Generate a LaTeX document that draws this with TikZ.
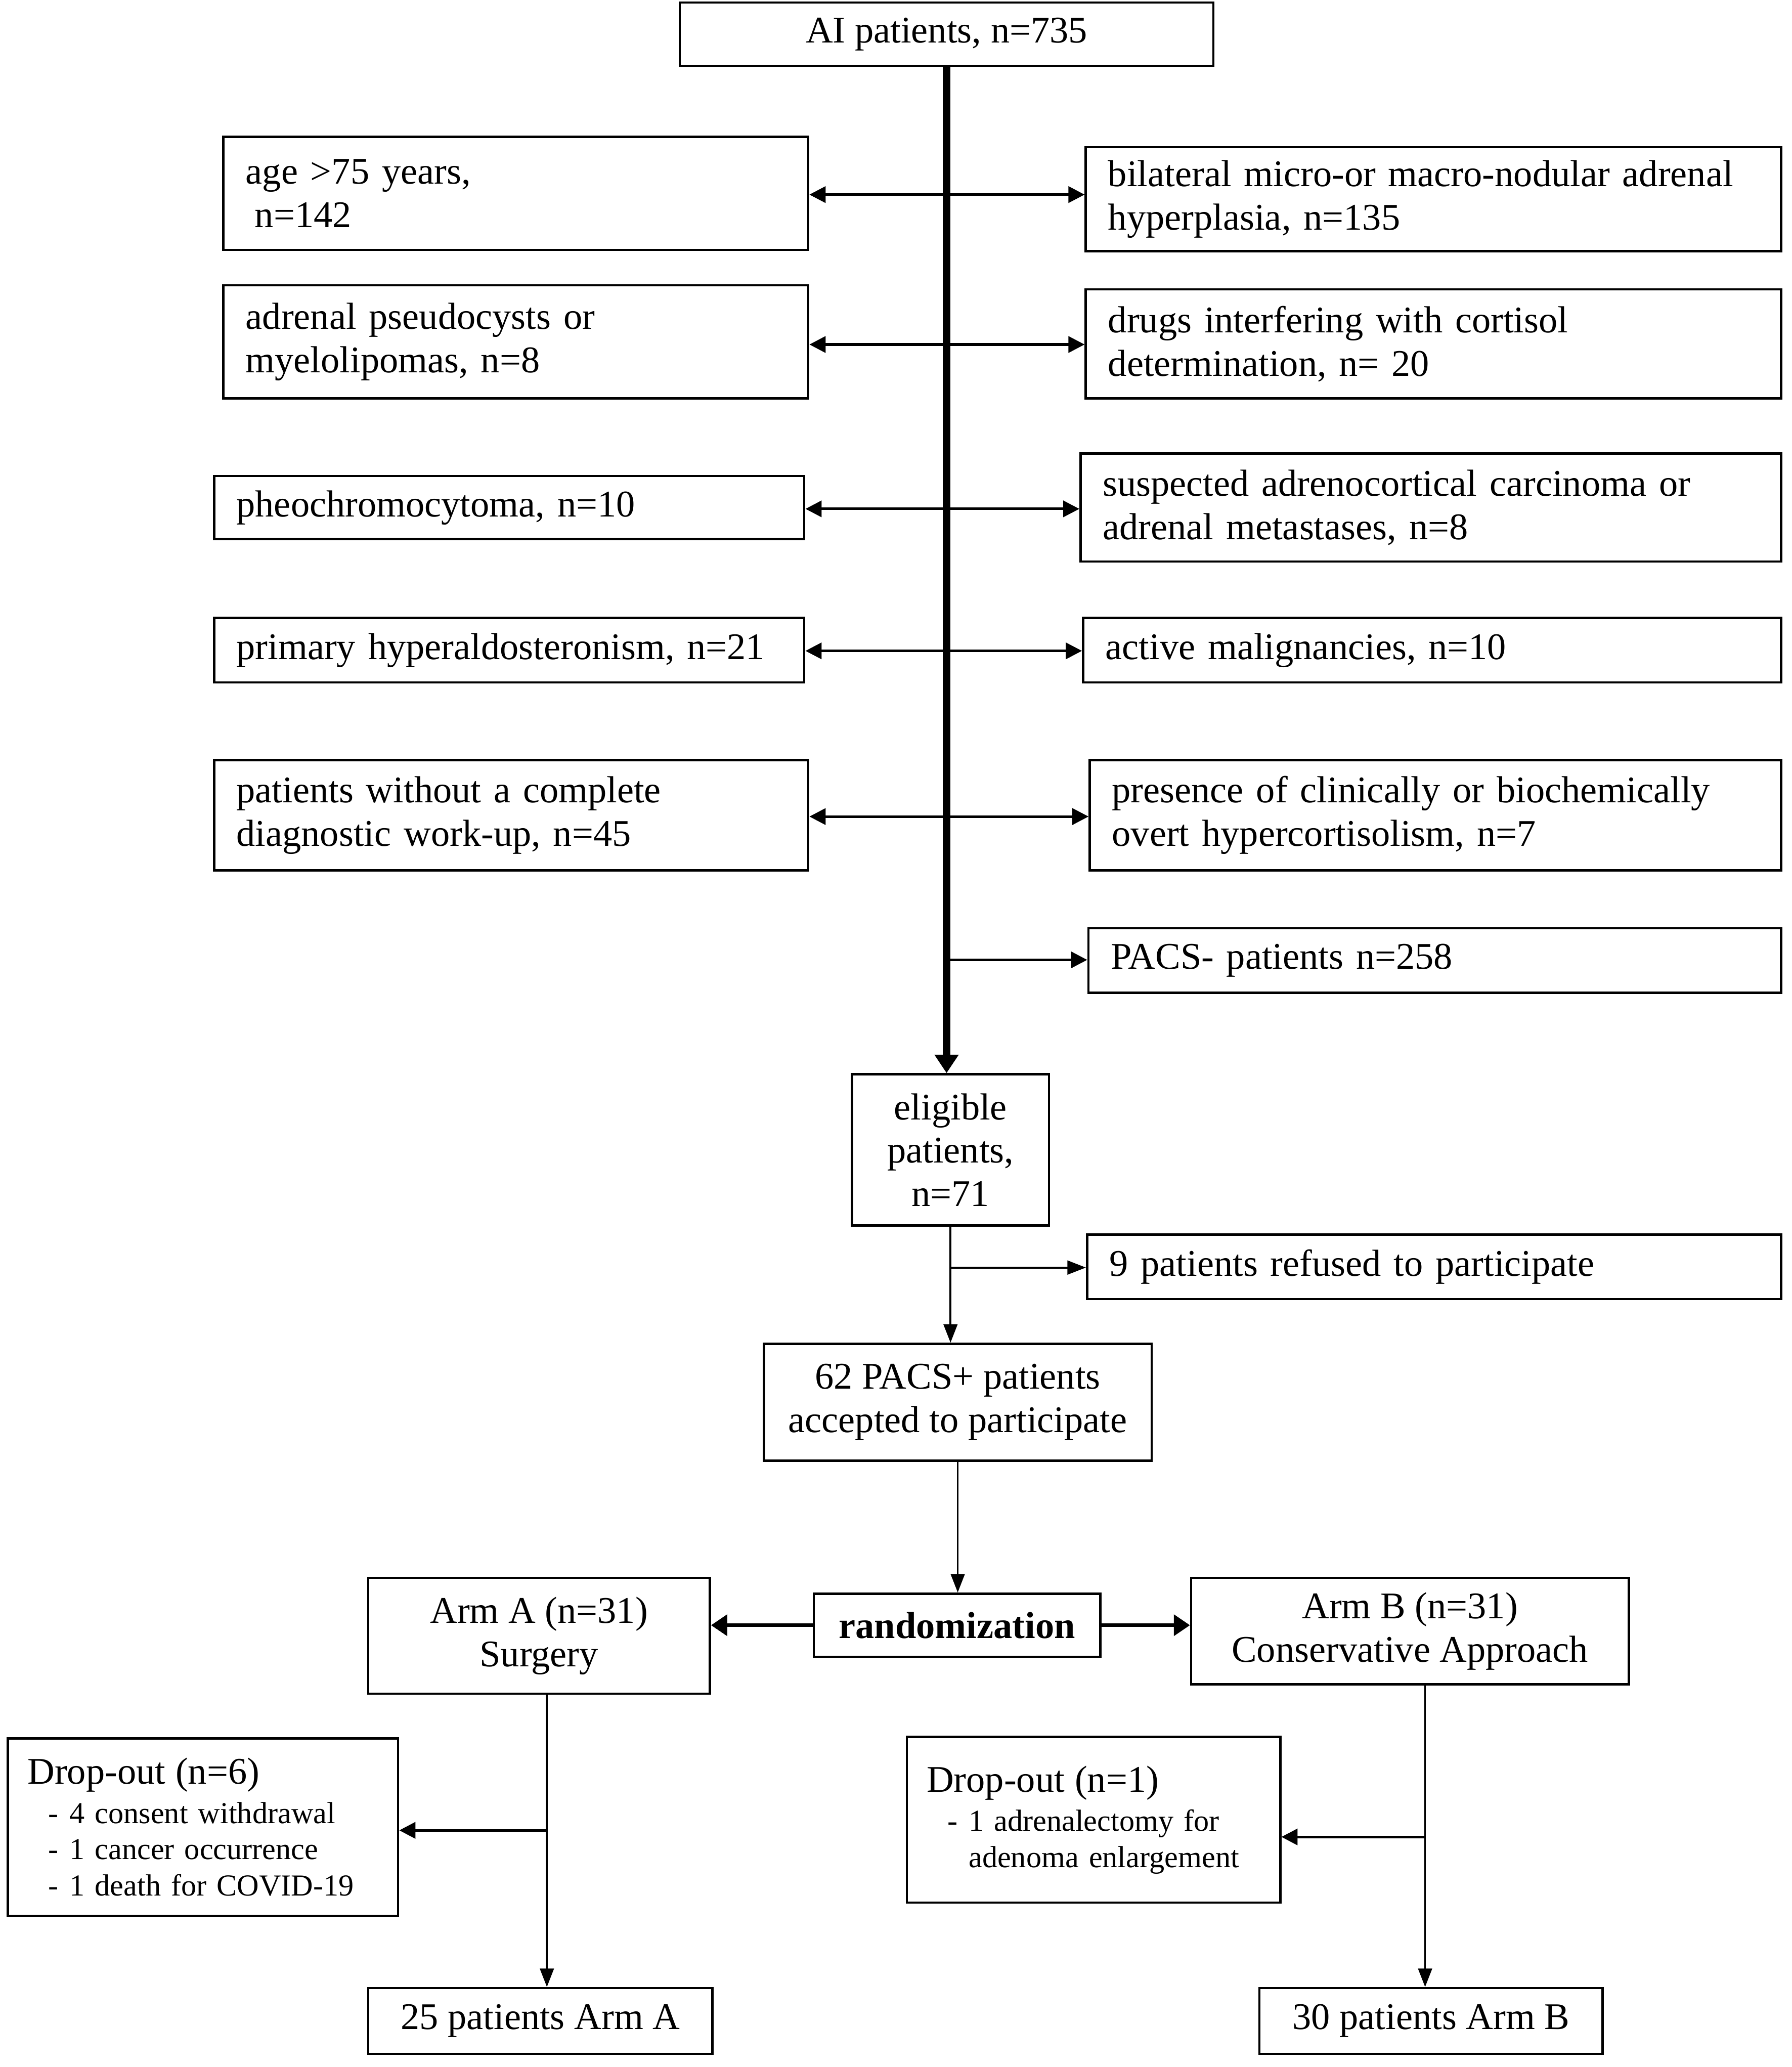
\documentclass[tikz,border=0pt]{standalone}
\usepackage{fontspec}
\setmainfont{Liberation Serif}
\usetikzlibrary{arrows.meta}
\newcommand{\listfont}{\fontsize{13.2}{15.6}\selectfont}
\newcommand{\headfont}{\fontsize{16.3}{18.8}\selectfont}
\newcommand{\dropitem}{\hspace*{0.32cm}\makebox[0.32cm][l]{-}}
\newcommand{\dropcont}{\hspace*{0.64cm}}

\begin{document}
\begin{tikzpicture}[x=0.02cm, y=-0.02cm,
    box/.style={draw, line width=1pt, inner sep=0pt, font=\headfont},
    cbox/.style={box, align=center},
    lbox/.style={box, anchor=west, inner xsep=0.34cm, align=left, text width=#1},
    dropbox/.style={lbox=#1, inner xsep=0.3cm, font=\listfont},
    arr/.style={line width=1.1pt, -{Triangle[length=7pt,width=7pt]}},
    thinarr/.style={line width=0.8pt, -{Triangle[length=8pt,width=6pt]}},
    randarr/.style={line width=1.6pt, -{Triangle[length=7pt,width=9pt]}},
    spinearr/.style={line width=3.4pt, -{Triangle[length=8pt,width=10pt]}}]
			\useasboundingbox (0,0) rectangle (1363,1572);
			\node[cbox, minimum width=8.12cm, minimum height=0.96cm] (ai) at (720,26) {AI patients, n=735};
			% left exclusions
			\node[lbox=8.22cm, minimum height=1.72cm] (age) at (169,147) {age >75 years,\\\hspace*{0.14cm}n=142};
			\node[lbox=8.22cm, minimum height=1.72cm] (pseudo) at (169,260) {adrenal pseudocysts or\\myelolipomas, n=8};
			\node[lbox=8.30cm, minimum height=0.96cm] (pheo) at (162,386) {pheochromocytoma, n=10};
			\node[lbox=8.30cm, minimum height=0.98cm] (aldo) at (162,494.5) {primary hyperaldosteronism, n=21};
			\node[lbox=8.36cm, minimum height=1.68cm] (workup) at (162,620) {patients without a complete\\diagnostic work-up, n=45};
			% right exclusions
			\node[lbox=9.90cm, minimum height=1.58cm] (bilat) at (825,151.5) {bilateral micro-or macro-nodular adrenal\\hyperplasia, n=135};
			\node[lbox=9.90cm, minimum height=1.66cm] (drugs) at (825,261.5) {drugs interfering with cortisol\\determination, n= 20};
			\node[lbox=9.98cm, minimum height=1.64cm] (acc) at (821,386) {suspected adrenocortical carcinoma or\\adrenal metastases, n=8};
			\node[lbox=9.94cm, minimum height=0.98cm] (malig) at (823,494.5) {active malignancies, n=10};
			\node[lbox=9.84cm, minimum height=1.68cm] (overt) at (828,620) {presence of clinically or biochemically\\overt hypercortisolism, n=7};
			\node[lbox=9.86cm, minimum height=0.98cm] (pacsneg) at (827,730.5) {PACS- patients n=258};
			% study flow
			\node[cbox, minimum width=3.0cm, minimum height=2.3cm] (elig) at (723,874.5) {eligible\\patients,\\n=71};
			\node[lbox=9.88cm, minimum height=0.98cm] (refused) at (826,963.5) {9 patients refused to participate};
			\node[cbox, minimum width=5.9cm, minimum height=1.78cm] (pacspos) at (728.5,1066.5) {62 PACS+ patients\\accepted to participate};
			\node[cbox, minimum width=4.36cm, minimum height=0.96cm] (rand) at (728,1236) {\textbf{randomization}};
			\node[cbox, minimum width=5.2cm, minimum height=1.76cm] (armA) at (410,1244) {Arm A (n=31)\\Surgery};
			\node[cbox, minimum width=6.66cm, minimum height=1.62cm] (armB) at (1072.5,1240.5) {Arm B (n=31)\\Conservative Approach};
			\node[dropbox=5.34cm, minimum height=2.7cm] (dropA) at (5,1389.5) {{\headfont Drop-out (n=6)}\\[0.05cm]\dropitem 4 consent withdrawal\\\dropitem 1 cancer occurrence\\\dropitem 1 death for COVID-19};
			\node[dropbox=5.08cm, minimum height=2.52cm] (dropB) at (689,1384) {{\headfont Drop-out (n=1)}\\[0.05cm]\dropitem 1 adrenalectomy for\\\dropcont adenoma enlargement\par\vspace*{0.4cm}};
			\node[cbox, minimum width=5.24cm, minimum height=1.0cm] (finA) at (411,1537) {25 patients Arm A};
			\node[cbox, minimum width=5.22cm, minimum height=1.0cm] (finB) at (1088.5,1537) {30 patients Arm B};
			% spine and branches
			\coordinate (r1) at (720,148);
			\coordinate (r2) at (720,262);
			\coordinate (r3) at (720,387);
			\coordinate (r4) at (720,495);
			\coordinate (r5) at (720,621);
			\coordinate (r6) at (720,730);
			\coordinate (r7) at (723,964);
			\coordinate (ta) at (416,1392);
			\coordinate (tb) at (1084,1397);
			\draw[spinearr] (ai.south) -- (ai.south |- elig.north);
			\draw[arr] (r1) -- (r1 -| age.east);
			\draw[arr] (r1) -- (r1 -| bilat.west);
			\draw[arr] (r2) -- (r2 -| pseudo.east);
			\draw[arr] (r2) -- (r2 -| drugs.west);
			\draw[arr] (r3) -- (r3 -| pheo.east);
			\draw[arr] (r3) -- (r3 -| acc.west);
			\draw[arr] (r4) -- (r4 -| aldo.east);
			\draw[arr] (r4) -- (r4 -| malig.west);
			\draw[arr] (r5) -- (r5 -| workup.east);
			\draw[arr] (r5) -- (r5 -| overt.west);
			\draw[arr] (r6) -- (r6 -| pacsneg.west);
			\draw[thinarr] (elig.south) -- (elig.south |- pacspos.north);
			\draw[thinarr] (r7) -- (r7 -| refused.west);
			\draw[thinarr] (pacspos.south) -- (pacspos.south |- rand.north);
			\draw[randarr] (rand.west) -- (rand.west -| armA.east);
			\draw[randarr] (rand.east) -- (rand.east -| armB.west);
			\draw[thinarr] (armA.south -| ta) -- (ta |- finA.north);
			\draw[arr] (ta) -- (ta -| dropA.east);
			\draw[thinarr] (armB.south -| tb) -- (tb |- finB.north);
			\draw[arr] (tb) -- (tb -| dropB.east);
		\end{tikzpicture}
\end{document}
